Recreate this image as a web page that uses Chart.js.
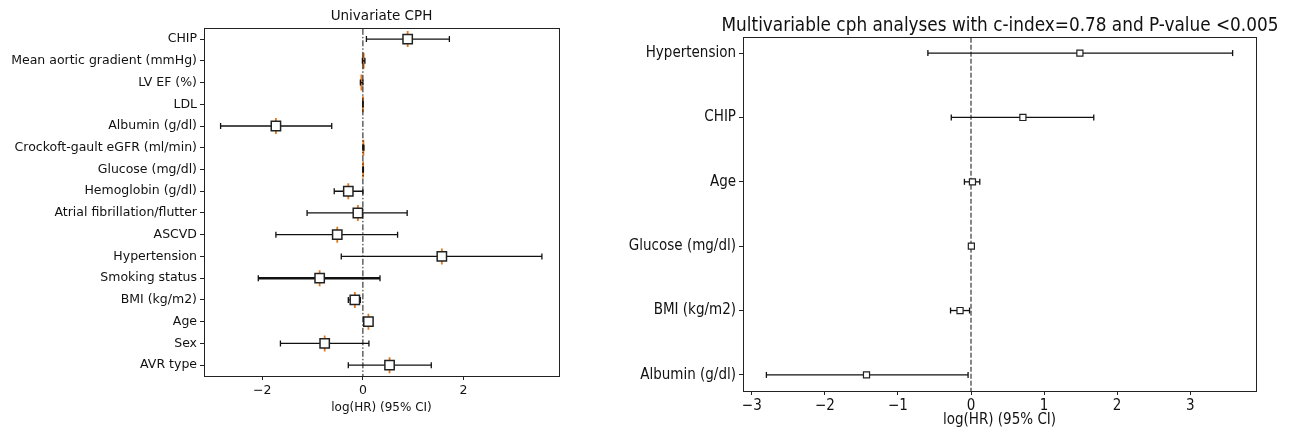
<!DOCTYPE html>
<html>
<head>
<meta charset="utf-8">
<script src="https://cdn.jsdelivr.net/npm/chart.js@4.4.1/dist/chart.umd.min.js"></script>
<style>
  html, body { margin: 0; padding: 0; background: #fff; }
  body { width: 1295px; height: 432px; position: relative; overflow: hidden; }
  #uni { position: absolute; left: 0; top: 0; }
  #multi { position: absolute; left: 600px; top: 0; }
  #multiTitle {
    position: absolute; left: 700px; width: 600px; top: 14px;
    text-align: center; white-space: nowrap; color: #111;
    font: 18.8px/22px 'DejaVu Sans Condensed', 'Liberation Sans Narrow', 'DejaVu Sans', sans-serif;
  }
</style>
</head>
<body>
<canvas id="uni" width="580" height="432"></canvas>
<canvas id="multi" width="695" height="432"></canvas>
<div id="multiTitle">Multivariable cph analyses with c-index=0.78 and P-value &lt;0.005</div>
<script>
// univariate CPH (top row first)
const uniLabels = ['CHIP', 'Mean aortic gradient (mmHg)', 'LV EF (%)', 'LDL', 'Albumin (g/dl)',
  'Crockoft-gault eGFR (ml/min)', 'Glucose (mg/dl)', 'Hemoglobin (g/dl)', 'Atrial fibrillation/flutter',
  'ASCVD', 'Hypertension', 'Smoking status', 'BMI (kg/m2)', 'Age', 'Sex', 'AVR type'];
const uniCoef  = [0.89, 0.015, -0.03, 0.0, -1.73, 0.01, 0.005, -0.29, -0.10, -0.51, 1.57, -0.86, -0.16, 0.11, -0.76, 0.53];
const uniLower = [0.07, -0.01, -0.05, 0.0, -2.83, 0.0, 0.0, -0.57, -1.11, -1.73, -0.43, -2.08, -0.29, 0.02, -1.64, -0.29];
const uniUpper = [1.72, 0.04, 0.0, 0.0, -0.62, 0.02, 0.01, 0.0, 0.88, 0.69, 3.56, 0.34, -0.05, 0.17, 0.12, 1.36];
const uniTicks = [-2, 0, 2];

// multivariable CPH
const multiLabels = ['Hypertension', 'CHIP', 'Age', 'Glucose (mg/dl)', 'BMI (kg/m2)', 'Albumin (g/dl)'];
const multiCoef  = [1.49, 0.71, 0.02, 0.005, -0.15, -1.43];
const multiLower = [-0.59, -0.27, -0.09, 0.0, -0.28, -2.80];
const multiUpper = [3.58, 1.68, 0.12, 0.01, -0.02, -0.04];
const multiTicks = [-3, -2, -1, 0, 1, 2, 3];

const frame = {
  id: 'frame',
  afterDatasetsDraw(chart) {
    const a = chart.chartArea, ctx = chart.ctx;
    ctx.save();
    ctx.strokeStyle = '#222';
    ctx.lineWidth = 1;
    ctx.strokeRect(Math.round(a.left) + 0.5, Math.round(a.top) + 0.5,
      Math.round(a.right - a.left), Math.round(a.bottom - a.top));
    ctx.restore();
  }
};

function ciData(lower, upper) {
  const out = [];
  lower.forEach((lo, i) => {
    out.push({x: lo, y: i}, {x: upper[i], y: i}, {x: upper[i], y: null});
  });
  return out;
}

function forest(id, o) {
  const n = o.labels.length;
  const datasets = [
    {
      data: o.coef.map((c, i) => ({x: c, y: i})),
      pointStyle: 'rect',
      // the tiny intervals on the left show no box, only the caps
      pointRadius: ctx => (o.hideTiny && o.upper[ctx.dataIndex] - o.lower[ctx.dataIndex] < 0.08 ? 0 : o.box),
      pointBackgroundColor: '#fff',
      pointBorderColor: '#222',
      pointBorderWidth: o.boxLine
    },
    {
      data: ciData(o.lower, o.upper),
      showLine: true,
      borderColor: '#111',
      borderWidth: 1.3,
      segment: { borderWidth: ctx => (o.thick === ctx.p0.parsed.y ? 2.6 : 1.3) },
      pointStyle: 'line',
      rotation: 90,
      pointRadius: 3,
      pointBorderWidth: 1.3,
      pointBorderColor: '#111'
    },
    {
      data: [{x: 0, y: -1}, {x: 0, y: n}],
      showLine: true,
      borderColor: '#111',
      borderWidth: 1,
      borderDash: o.dash,
      pointRadius: 0
    }
  ];
  if (o.orange) {
    datasets.push({
      data: o.coef.map((c, i) => ({x: c, y: i})),
      pointStyle: 'line',
      rotation: 90,
      pointRadius: 8,
      pointBorderWidth: 1.8,
      pointBorderColor: '#e3781c'
    });
  }
  return new Chart(document.getElementById(id), {
    type: 'scatter',
    data: { datasets },
    plugins: [frame],
    options: {
      responsive: false,
      animation: false,
      layout: { padding: { left: 0, right: o.padRight, top: o.padTop, bottom: 0 } },
      plugins: {
        legend: { display: false },
        tooltip: { enabled: false },
        title: {
          display: !!o.title,
          text: o.title,
          fullSize: false,
          color: '#111',
          font: { family: o.font, size: o.titleSize, weight: 'normal' },
          padding: o.titlePad
        }
      },
      scales: {
        x: {
          type: 'linear',
          min: o.xmin, max: o.xmax,
          afterFit: s => { s.height = o.xHeight; },
          afterBuildTicks: s => { s.ticks = o.ticks.map(v => ({value: v})); },
          grid: { display: true, drawOnChartArea: false, drawTicks: true, tickLength: 4, tickColor: '#222' },
          border: { display: true, color: '#222' },
          ticks: {
            color: '#111', padding: o.tickPad, maxRotation: 0,
            font: { family: o.font, size: o.tickSize },
            callback: v => (v < 0 ? '\u2212' + Math.abs(v) : String(v))
          },
          title: {
            display: true, text: 'log(HR) (95% CI)', color: '#111',
            font: { family: o.font, size: o.xlabelSize },
            padding: { top: 0, bottom: o.xlabelBottom }
          }
        },
        y: {
          type: 'linear',
          reverse: true,
          min: -o.ypad, max: n - 1 + o.ypad,
          afterFit: s => { s.width = o.yWidth; },
          afterBuildTicks: s => { s.ticks = o.labels.map((_, i) => ({value: i})); },
          grid: { display: true, drawOnChartArea: false, drawTicks: true, tickLength: 4, tickColor: '#222' },
          border: { display: true, color: '#222' },
          ticks: {
            color: '#111', padding: 3, autoSkip: false,
            font: { family: o.font, size: o.tickSize },
            callback: v => o.labels[v]
          }
        }
      }
    }
  });
}

forest('uni', {
  labels: uniLabels, coef: uniCoef, lower: uniLower, upper: uniUpper, ticks: uniTicks,
  title: 'Univariate CPH', font: "'DejaVu Sans', sans-serif",
  titleSize: 13.5, titlePad: { top: 8, bottom: 4 }, padTop: 0,
  tickSize: 12.5, tickPad: 3, xlabelSize: 12, xlabelBottom: 17,
  xmin: -3.16, xmax: 3.9, ypad: 0.5, yWidth: 204, xHeight: 56, padRight: 21,
  box: 6.6, boxLine: 1.5, dash: [6, 2, 1.5, 2], orange: true, hideTiny: true, thick: 11
});

// title of this one is the html div above (wider than the plot area)
forest('multi', {
  labels: multiLabels, coef: multiCoef, lower: multiLower, upper: multiUpper, ticks: multiTicks,
  title: '', padTop: 37,
  font: "'DejaVu Sans Condensed', 'Liberation Sans Narrow', 'DejaVu Sans', sans-serif",
  tickSize: 15, tickPad: 2, xlabelSize: 15, xlabelBottom: 3,
  xmin: -3.12, xmax: 3.9, ypad: 0.25, yWidth: 143, xHeight: 41, padRight: 39,
  box: 4.3, boxLine: 1.2, dash: [5, 2], orange: false, hideTiny: false, thick: -1
});
</script>
</body>
</html>
